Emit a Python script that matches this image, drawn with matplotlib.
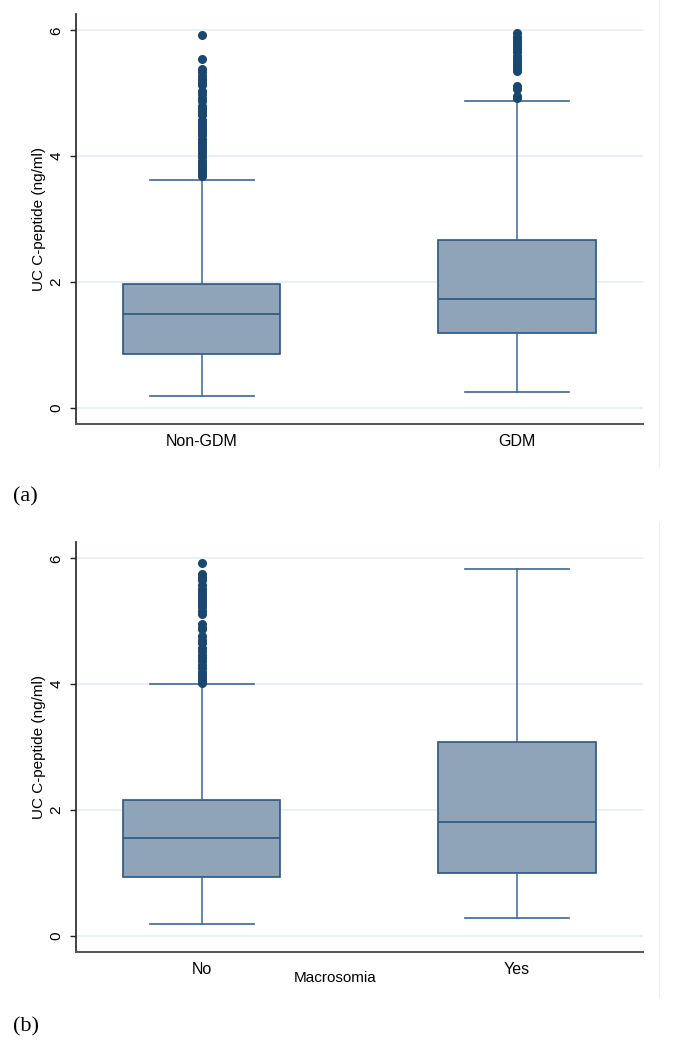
import matplotlib
matplotlib.use("Agg")
import matplotlib.pyplot as plt
from matplotlib.lines import Line2D

# ---------------- data ----------------
cats_a = ["Non-GDM", "GDM"]
cats_b = ["No", "Yes"]

# [lower whisker, Q1, median, Q3, upper whisker]
nongdm_stats = [0.19, 0.85, 1.49, 1.97, 3.62]
gdm_stats = [0.25, 1.18, 1.73, 2.67, 4.88]
no_stats = [0.19, 0.93, 1.55, 2.15, 4.00]
yes_stats = [0.28, 1.00, 1.81, 3.08, 5.83]

nongdm_out = [5.92, 5.55, 5.38, 5.33, 5.28, 5.23, 5.18, 5.13, 5.03, 4.98, 4.93,
              4.88, 4.80, 4.75, 4.70, 4.65, 4.58, 4.53, 4.48, 4.43, 4.38, 4.33,
              4.28, 4.23, 4.18, 4.13, 4.08, 4.03, 3.98, 3.93, 3.88, 3.83, 3.78,
              3.73, 3.68]
gdm_out = [5.95, 5.90, 5.85, 5.80, 5.75, 5.70, 5.65, 5.60, 5.55, 5.50, 5.45,
           5.40, 5.36, 5.12, 5.07, 4.96, 4.92]
no_out = [5.93, 5.75, 5.70, 5.65, 5.57, 5.52, 5.47, 5.42, 5.37, 5.32, 5.27,
          5.22, 5.17, 5.12, 4.95, 4.90, 4.87, 4.76, 4.70, 4.65, 4.57, 4.52,
          4.47, 4.42, 4.37, 4.30, 4.25, 4.20, 4.15, 4.10, 4.05, 4.02]
yes_out = []

yticks = [0, 2, 4, 6]
ylabel = "UC C-peptide (ng/ml)"
xlabel_b = "Macrosomia"

# ---------------- style ----------------
FILL = "#8fa4b8"
EDGE = "#2b5580"
WHISK = "#3f6690"
DOT = "#1a476f"
GRID = "#e8f0f2"

plt.rcParams["font.family"] = ["Liberation Sans", "DejaVu Sans"]

fig = plt.figure(figsize=(6.85, 10.49), dpi=100)
W, H = 685.0, 1049.0


def make_stats(s, out, label):
    return dict(whislo=s[0], q1=s[1], med=s[2], q3=s[3], whishi=s[4],
                fliers=out, label=label)


def panel(rect_px, cats, stats, outs):
    l, t, r, b = rect_px
    ax = fig.add_axes([l / W, 1 - b / H, (r - l) / W, (b - t) / H])
    bx = [make_stats(s, o, c) for s, o, c in zip(stats, outs, cats)]
    ax.bxp(bx, positions=[1, 2], widths=0.5, patch_artist=True,
           boxprops=dict(facecolor=FILL, edgecolor=EDGE, linewidth=1.2),
           medianprops=dict(color=EDGE, linewidth=1.2),
           whiskerprops=dict(color=WHISK, linewidth=1.1),
           capprops=dict(color=WHISK, linewidth=1.2),
           capwidths=0.33,
           flierprops=dict(marker="o", markerfacecolor=DOT,
                           markeredgecolor=DOT, markersize=5.5, linestyle="none"))
    ax.set_xlim(0.6, 2.4)
    ax.set_ylim(-0.26, 6.26)
    ax.set_yticks(yticks)
    ax.set_yticklabels([str(v) for v in yticks], rotation=90, va="center",
                       fontsize=11)
    ax.yaxis.grid(True, color=GRID, linewidth=1.3)
    ax.set_axisbelow(True)
    ax.tick_params(axis="y", length=4.5, width=1.0, color="#222222", pad=4)
    ax.tick_params(axis="x", length=0, labelsize=11.5, pad=7)
    for sp in ["top", "right"]:
        ax.spines[sp].set_visible(False)
    ax.spines["left"].set_color("#222222")
    ax.spines["left"].set_linewidth(1.2)
    ax.spines["bottom"].set_color("#555555")
    ax.spines["bottom"].set_linewidth(1.4)
    ax.set_ylabel(ylabel, fontsize=11, labelpad=3)
    return ax


ax_a = panel((75.5, 14, 643, 424), cats_a, [nongdm_stats, gdm_stats],
             [nongdm_out, gdm_out])
ax_b = panel((75.5, 542, 643, 952), cats_b, [no_stats, yes_stats],
             [no_out, yes_out])

fig.text(335 / W, 1 - 978 / H, xlabel_b, ha="center", va="center", fontsize=11)

# panel letters
fig.text(13 / W, 1 - 497 / H, "(a)", ha="left", va="center", fontsize=16,
         family=["Liberation Serif", "DejaVu Serif"])
fig.text(13 / W, 1 - 1027 / H, "(b)", ha="left", va="center", fontsize=16,
         family=["Liberation Serif", "DejaVu Serif"])

# faint graph-region borders on the right
fig.add_artist(Line2D([659 / W, 659 / W], [1 - 0 / H, 1 - 467 / H],
                      color="#eeeeee", linewidth=0.8, transform=fig.transFigure))
fig.add_artist(Line2D([659 / W, 659 / W], [1 - 523 / H, 1 - 997 / H],
                      color="#eeeeee", linewidth=0.8, transform=fig.transFigure))

fig.savefig("out.png", dpi=100, facecolor="white")
